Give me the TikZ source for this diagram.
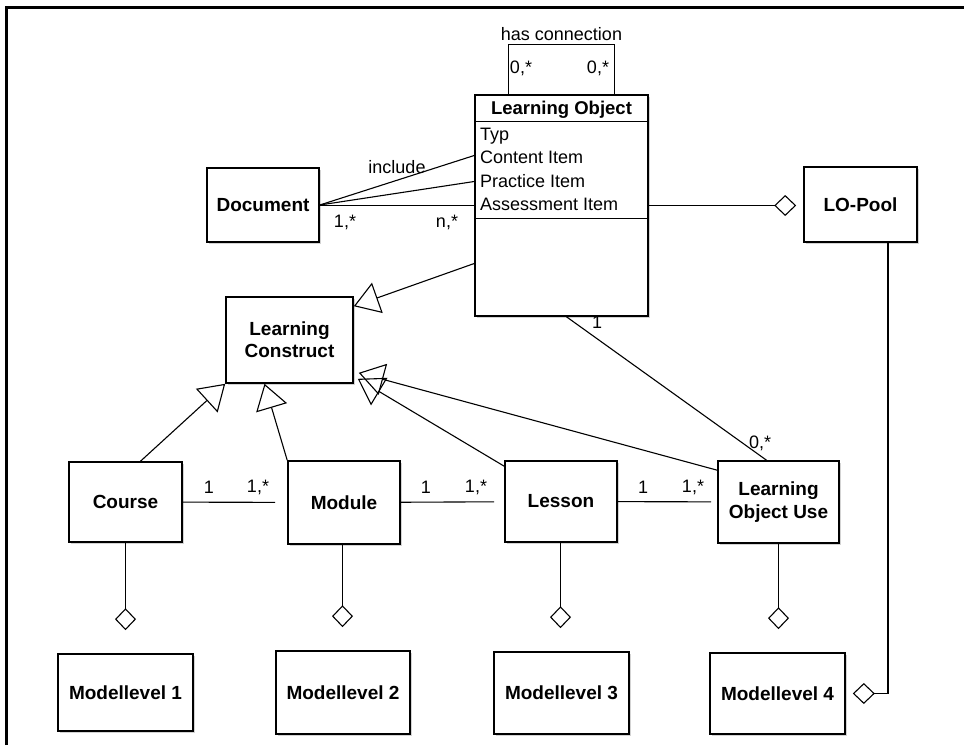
\documentclass[tikz,border=0pt]{standalone}
\usepackage{fontspec}
\setmainfont{Liberation Sans}
\usetikzlibrary{arrows.meta,positioning,shadows}

\begin{document}
\begin{tikzpicture}[x=1pt,y=-1pt,
  cls/.style={draw,line width=1.6pt,fill=white,align=center,inner sep=0pt,
    font=\bfseries\fontsize{19}{22}\selectfont,
    drop shadow={shadow xshift=2pt,shadow yshift=-2pt,opacity=0.35}},
  lbl/.style={font=\fontsize{18}{20}\selectfont,inner sep=0pt},
  attr/.style={lbl,anchor=base west},
  assoc/.style={line width=1.1pt},
  gen/.style={assoc,-{Triangle[open,length=25pt,width=32pt]}},
  agg/.style={assoc,-{Diamond[open,length=22pt,width=21pt]}}]
\useasboundingbox (0,0) rectangle (964,745);
\draw[line width=3pt] (6.5,745) -- (6.5,7) -- (964,7);

% classes
\node[cls,minimum width=173,minimum height=221] (lo) at (561.5,205.5) {};
\node[font=\bfseries\fontsize{18.5}{21}\selectfont,anchor=base] (lohead) at (561.5,114) {Learning Object};
\draw[line width=1.2pt] ([yshift=-27pt]lo.north west) -- ([yshift=-27pt]lo.north east);
\draw[line width=1.2pt] ([yshift=-124pt]lo.north west) -- ([yshift=-124pt]lo.north east);
\node[attr] (a1) at (480,140) {Typ};
\node[attr] (a2) at (480,163) {Content Item};
\node[attr] (a3) at (480,187) {Practice Item};
\node[attr] (a4) at (480,210) {Assessment Item};

\node[cls,minimum width=112,minimum height=74] (doc) at (263,205) {Document};
\node[cls,minimum width=113,minimum height=75] (pool) at (860.5,204.5) {LO-Pool};
\node[cls,minimum width=127,minimum height=86] (lc) at (289.5,340) {Learning\\Construct};

\node[cls,minimum width=113,minimum height=80] (course) at (125.5,502) {Course};
\node[cls,minimum width=112,minimum height=83] (module) at (344,502.5) {Module};
\node[cls,minimum width=112,minimum height=81] (lesson) at (561,501.5) {Lesson};
\node[cls,minimum width=121,minimum height=82,font=\bfseries\fontsize{19}{23}\selectfont] (lou) at (778.5,502) {Learning\\Object Use};

\node[cls,minimum width=135,minimum height=77] (ml1) at (125.5,692.5) {Modellevel 1};
\node[cls,minimum width=134,minimum height=83] (ml2) at (343,692.5) {Modellevel 2};
\node[cls,minimum width=135,minimum height=82] (ml3) at (561.5,693) {Modellevel 3};
\node[cls,minimum width=135,minimum height=81] (ml4) at (777.5,693.5) {Modellevel 4};

% has connection
\coordinate (hc1) at (508.5,44.5);
\coordinate (hc2) at (614.5,44.5);
\draw[assoc] (hc1 |- lo.north) -- (hc1) -- node[lbl,above=3pt] (hcl) {has connection} (hc2) -- (hc2 |- lo.north);
\node[lbl] (m1) at (521,68) {0,*};
\node[lbl] (m2) at (598,68) {0,*};

% document
\node[lbl] (incl) at (397,167) {include};
\draw[assoc] (doc.east) -- ([yshift=50pt]lo.west);
\draw[assoc] (doc.east) -- ([yshift=24pt]lo.west);
\draw[assoc] ([yshift=-0.5pt]doc.east) -- ([yshift=-0.5pt]doc.east -| lo.west);
\node[lbl] (m3) at (345,222) {1,*};
\node[lbl] (m4) at (447,222) {n,*};

\draw[agg,shorten >=7pt] (lo.east) -- (lo.east -| pool.west);
\draw[agg,shorten >=7pt] ([xshift=27.5pt]pool.south) |- (ml4.east);

% generalizations
\draw[gen] ([yshift=-58pt]lo.west) -- ([yshift=-10pt]lc.north east);
\draw[gen] ([xshift=15pt]course.north) -- (lc.south west);
\draw[gen] (module.north west) -- ([xshift=-25pt]lc.south);
\draw[gen] ([yshift=-6pt]lesson.north west) -- ([xshift=4pt,yshift=5pt]lc.south east);
\draw[gen] ([yshift=-10pt]lou.north west) -- ([xshift=5pt,yshift=11pt]lc.south east);

\draw[assoc] ([xshift=5pt]lo.south) -- ([xshift=-12pt]lou.north);
\node[lbl] (m5) at (597,322) {1};
\node[lbl] (m6) at (760,443) {0,*};

% row of associations
\draw[assoc,shorten >=12pt] (course) -- (module);
\draw[assoc,shorten >=10pt] (module) -- (lesson);
\draw[assoc,shorten >=6pt] (lesson) -- (lou);
\node[lbl] (m7) at (209,487) {1};
\node[lbl] (m8) at (258,487) {1,*};
\node[lbl] (m9) at (426,487) {1};
\node[lbl] (m10) at (476,487) {1,*};
\node[lbl] (m11) at (643,487) {1};
\node[lbl] (m12) at (693,487) {1,*};

% aggregations to model levels
\draw[agg,shorten >=23pt] (course.south) -- (course.south |- ml1.north);
\draw[agg,shorten >=23pt] ([xshift=-1.5pt]module.south) -- ([xshift=-1.5pt]module.south |- ml2.north);
\draw[agg,shorten >=23pt] ([xshift=-0.5pt]lesson.south) -- ([xshift=-0.5pt]lesson.south |- ml3.north);
\draw[agg,shorten >=23pt] (lou.south) -- (lou.south |- ml4.north);
\end{tikzpicture}
\end{document}
